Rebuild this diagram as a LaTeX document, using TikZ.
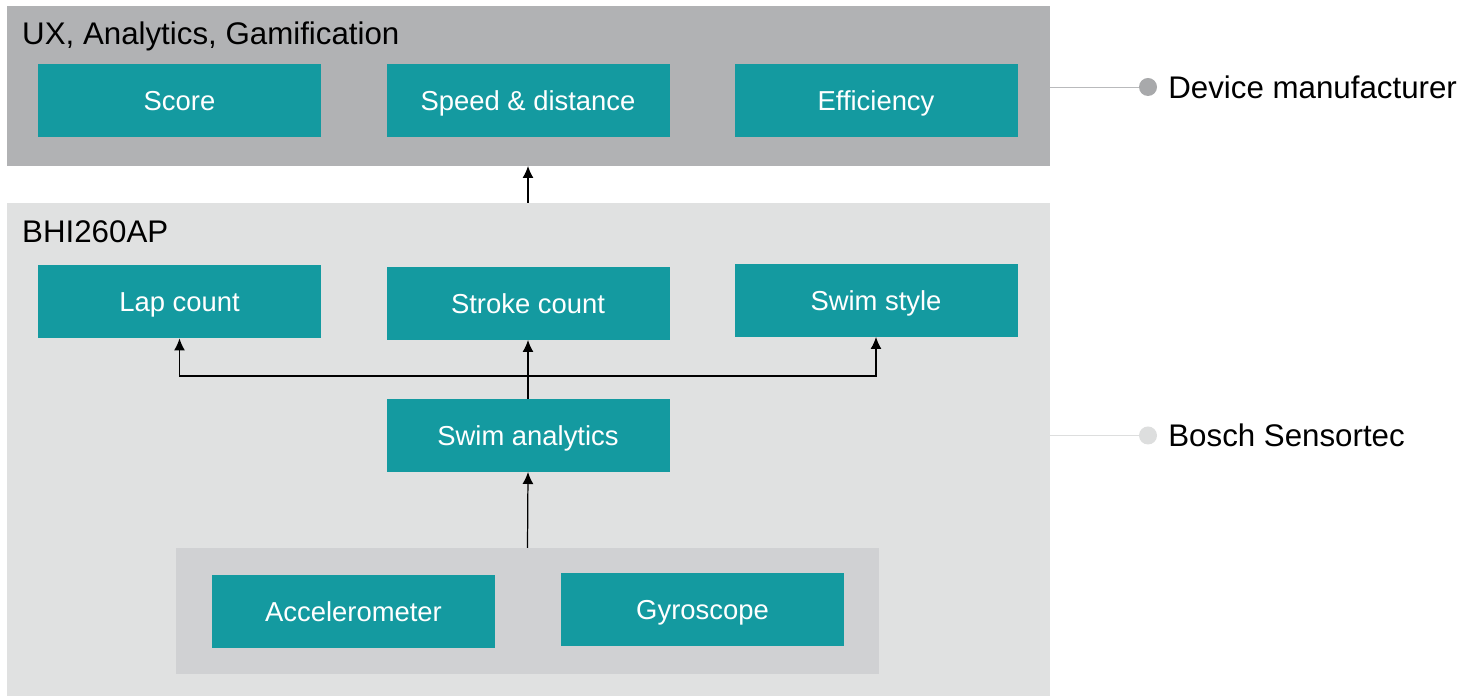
\documentclass[tikz,border=0pt]{standalone}
\usepackage{fontspec}
\setmainfont{Liberation Sans}
\usetikzlibrary{arrows.meta}

\definecolor{boxteal}{RGB}{20,154,160}
\definecolor{panneauhaut}{RGB}{177,178,180}
\definecolor{panneaubas}{RGB}{224,225,225}
\definecolor{panneaucapteurs}{RGB}{208,209,211}
\definecolor{pointfonce}{RGB}{168,169,171}
\definecolor{pointclair}{RGB}{221,222,222}

\tikzset{
    bloc/.style={rectangle, fill=boxteal, text=white, inner sep=0pt, outer sep=0pt,
        minimum width=5.66cm, minimum height=1.46cm, text height=11.2pt, text depth=0pt,
        font=\fontsize{15.6}{18}\selectfont},
    panneau/.style={rectangle, inner sep=0pt, outer sep=0pt, anchor=south west},
    titre/.style={anchor=base west, font=\fontsize{17.8}{20}\selectfont},
    fleche/.style={-{Latex[length=0.24cm,width=0.22cm]}, line width=0.7pt},
    point/.style={circle, inner sep=0pt, minimum size=0.36cm},
}

\begin{document}
\begin{tikzpicture}
        \useasboundingbox (0,0) rectangle (29.5,13.92);

        % Panneaux de fond
        \node[panneau, fill=panneauhaut, minimum width=20.86cm, minimum height=3.2cm] (ux) at (0.14,10.60) {};
        \node[panneau, fill=panneaubas, minimum width=20.86cm, minimum height=9.86cm] (bhi) at (0.14,0) {};
        \node[panneau, fill=panneaucapteurs, minimum width=14.06cm, minimum height=2.52cm] (capteurs) at (3.52,0.44) {};

        % Titres des panneaux
        \node[titre] (titreux) at (0.32,13.02) {UX, Analytics, Gamification};
        \node[titre] (titrebhi) at (0.32,9.06) {BHI260AP};

        % Blocs du fabricant
        \node[bloc] (score) at (3.59,11.91) {Score};
        \node[bloc] (speed) at (10.56,11.91) {Speed \& distance};
        \node[bloc] (effic) at (17.52,11.91) {Efficiency};

        % Blocs du capteur
        \node[bloc] (lap) at (3.59,7.88) {Lap count};
        \node[bloc] (stroke) at (10.56,7.85) {Stroke count};
        \node[bloc] (style) at (17.52,7.91) {Swim style};
        \node[bloc] (swim) at (10.56,5.21) {Swim analytics};
        \node[bloc] (accel) at (7.07,1.69) {Accelerometer};
        \node[bloc] (gyro) at (14.05,1.73) {Gyroscope};

        % Liaisons
        \coordinate (jonction) at (10.56,6.40);
        \draw[fleche] (capteurs.north) -- (swim.south);
        \draw[fleche] (swim.north) -- (stroke.south);
        \draw[fleche] (jonction) -| (lap.south);
        \draw[fleche] (jonction) -| (style.south);
        \draw[fleche] (bhi.north -| speed) -- (ux.south -| speed);

        % Légendes à droite
        \node[point, fill=pointfonce] (pdm) at (22.96,12.18) {};
        \node[point, fill=pointclair] (pbs) at (22.96,5.21) {};
        \draw[pointfonce!80, line width=0.5pt] (ux.east |- pdm) -- (pdm);
        \draw[pointclair, line width=0.5pt] (bhi.east |- pbs) -- (pbs);
        \node[anchor=west, inner sep=0pt, font=\fontsize{17.8}{20}\selectfont] (dm) at (23.36,12.18) {Device manufacturer};
        \node[anchor=west, inner sep=0pt, font=\fontsize{17.8}{20}\selectfont] (bs) at (23.36,5.21) {Bosch Sensortec};

    \end{tikzpicture}
\end{document}
